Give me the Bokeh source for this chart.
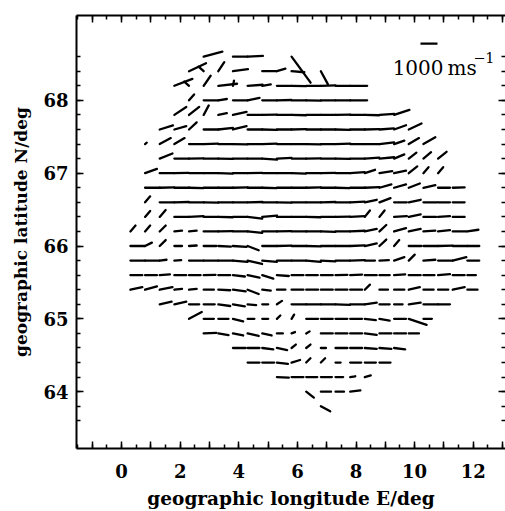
from bokeh.plotting import figure
from bokeh.models import (FixedTicker, LinearAxis, Range1d, ColumnDataSource,
                          CustomJSTickFormatter, CustomLabelingPolicy)
from bokeh.core.properties import value
from bokeh.embed import file_html
from bokeh.resources import INLINE

# ---------------- data ----------------
# latitude of each row of vectors (deg N)
ROW_LAT = [68.6, 68.4, 68.2, 68.0, 67.8, 67.6, 67.4, 67.2, 67.0, 66.8, 66.6, 66.4,
           66.2, 66.0, 65.8, 65.6, 65.4, 65.2, 65.0, 64.8, 64.6, 64.4, 64.2, 64.0, 63.8]
# longitude of the first grid point of each row (deg E); grid spacing 0.5 deg
ROW_FIRST_LON = [2.8, 2.3, 1.8, 2.3, 1.8, 1.3, 0.8, 1.3, 0.8, 0.8, 0.8, 0.8,
                 0.3, 0.3, 0.3, 0.3, 0.3, 1.3, 2.3, 2.8, 3.8, 4.3, 5.3, 6.3, 6.8]
GRID_STEP = 0.5

# eastward velocity component (m/s), None = no vector
VE_ROWS = [
    [1100, None, 860, 900, None, None, 1120],
    [1000, -300, 350, 880, None, 820, 500, 750, None, 410],
    [1060, -280, 410, 1100, 60, 880, 500, 860, 870, 850, 860, 870, 1000],
    [300, 850, 500, 860, 700, 860, 850, 870, 860, 850, 870, 1000],
    [700, 600, 300, 500, 800, 860, 850, 870, 860, 860, 850, 870, 860, 850, 870, 900],
    [780, 700, 450, 860, 860, 800, 860, 870, 850, 860, 860, 850, 870, 860, 860, 850, 700, 750],
    [100, 650, 600, 860, 850, 870, 860, 860, 850, 870, 860, 860, 850, 870, 860, 860, 860, 600, 600, 700],
    [750, 860, 850, 870, 860, 860, 850, 870, 860, 860, 850, 870, 860, 860, 850, 860, 600, 450, 450, 500],
    [700, 860, 850, 870, 860, 860, 850, 870, 860, 860, 850, 870, 860, 860, 850, 600, 750, 700, 500, 300, 300],
    [860, 850, 870, 860, 860, 850, 870, 860, 860, 850, 870, 860, 860, 850, 870, 860, 700, 700, 650, 700, 700, 700],
    [300, 860, 850, 870, 860, 860, 850, 870, 860, 860, 850, 870, 860, 860, 850, 700, 650, 750, 700, 800, 700, 700],
    [300, 350, 860, 850, 870, 860, 860, 860, 860, 850, 870, 860, 860, 850, 860, 300, 300, 750, 700, 750, 700, 700],
    [300, 300, 350, 450, 450, 860, 850, 870, 860, 860, 850, 870, 860, 860, 850, 860, 700, 400, 700, 700, 700, 700, 800, 650],
    [860, 400, 350, 450, 450, 750, 750, 800, 650, 860, 850, 870, 860, 860, 850, 860, 700, 400, 300, 750, 860, 860, 860, 700],
    [860, 850, 400, 400, 860, 850, 870, 860, 850, 860, 860, 850, 860, 860, 850, 860, 600, 550, 600, 350, 700, 860, 800, 700],
    [700, 700, 600, 700, 680, 700, 700, 700, 700, 650, 700, 700, 680, 700, 700, 700, 700, 600, 650, 700, 650, 700, 700, 500],
    [700, 700, 750, 450, 450, 600, 700, 750, 650, 500, 500, 700, 700, 700, 700, 700, 300, 500, 600, 650, 600, 600, 700, 600],
    [700, 700, 600, 650, 700, 700, 500, 350, 300, 860, 860, 860, 860, 860, 700, 600, 500, 700, 860, 700],
    [750, 600, 600, 600, 400, 350, 200, 150, 700, 700, 700, 700, 650, 600, 700, 1050, 500],
    [750, 600, 600, 650, 550, 350, 200, 200, 700, 700, 700, 700, 700, 700, 600],
    [750, 700, 650, 600, 250, 250, 300, 700, 700, 700, 700, 650],
    [700, 700, 650, 500, 250, 250, 300, 650, 650, 650],
    [700, 700, 650, 650, 450, 300, 350],
    [450, 600, 500, 600],
    [550],
]
# northward velocity component (m/s)
VN_ROWS = [
    [300, None, 0, 40, None, None, -1530],
    [470, 270, 530, 120, None, 0, 150, -60, None, -760],
    [410, 250, 590, 120, 300, 60, 80, 0, -20, 0, 20, 0, 0],
    [350, 0, 80, 0, 150, 0, 20, 0, -20, 0, 0, 0],
    [470, 470, 560, 100, 180, 0, 20, 0, -20, 0, 0, 20, 0, -20, 60, 300],
    [240, 200, 420, 0, 100, 200, 0, -20, 0, 20, 0, 0, -20, 0, 20, 60, 250, 350],
    [80, 350, 350, 0, 20, 0, -20, 0, 20, 0, 0, -20, 0, 20, 0, 0, 100, 200, 350, 400],
    [300, 0, 20, 0, -20, 0, 0, -60, 40, 0, 20, 0, -20, 0, 60, 80, 250, 350, 380, 400],
    [250, 0, 20, 0, 0, -20, 0, 20, 0, 0, -20, 0, 20, 0, 60, 200, 120, 150, 400, 350, 350],
    [0, 20, 0, -20, 0, 0, 20, 0, -20, 0, 0, 20, 0, -20, 0, 40, 200, 200, 250, 150, 0, 20],
    [350, 0, 20, 0, -20, 0, 0, 20, 0, -20, 0, 0, 20, 0, 40, 150, 250, 0, 150, 0, 0, 0],
    [350, 400, 0, 40, 0, -20, 0, -100, 80, 0, 0, -20, 0, 20, 40, 380, 380, 50, 150, 0, 50, 0],
    [350, 350, 350, 50, 50, 0, 20, 0, -80, 0, 20, 0, 0, -20, 0, 40, 150, 380, 200, 150, 50, 80, 0, 100],
    [0, 200, 350, 0, 30, 0, -30, -50, -250, 0, 20, 0, -20, 0, 0, 40, 150, 380, 350, 0, 0, 20, 0, 0],
    [0, 0, 50, 30, 0, 0, 0, -80, -200, -80, 0, 0, -80, -50, 0, 30, 0, 30, 200, 350, 50, 0, 200, 0],
    [0, 0, 50, 0, 0, 20, 0, -80, -150, -200, -50, 0, 0, 0, 20, 30, 0, 0, 50, 0, 0, 60, 0, 0],
    [150, 200, 150, 50, 50, 0, -30, -100, -250, -50, 0, 0, 0, 0, 0, 0, 300, 0, 0, 150, 0, 0, 150, 0],
    [150, 150, 0, 0, -100, -120, -50, 0, 200, 0, 0, 0, -30, 0, 100, 0, 0, 100, 0, 0],
    [400, 0, 0, -150, 0, 0, 200, 250, 0, 0, 0, 0, -80, -100, 0, -350, 0],
    [30, -100, -120, -150, -120, 0, 80, 120, 0, 0, 0, -80, 0, 0, 0],
    [0, 0, -80, -120, 200, 200, 0, 0, 0, -50, -50, -80],
    [0, 0, -80, 150, 250, 250, 0, 0, 0, 0],
    [-30, 0, 0, 0, 0, 50, 100],
    [-350, 0, 0, 80],
    [-300],
]

SCALE_SPEED = 1000          # m/s, reference vector
SCALE_LON, SCALE_LAT = 10.2, 68.78
SCALE_TEXT = "1000\u2009ms"
SCALE_EXP = "\u22121"

X_TICKS = list(range(-1, 14))
X_MINOR = [-1.5 + 0.5 * i for i in range(30)]
Y_TICKS = [64, 65, 66, 67, 68]
Y_MINOR = [round(63.6 + 0.2 * i, 1) for i in range(26)]

# ---------------- layout ----------------
FIG_W, FIG_H = 505, 511
BORDER_L, BORDER_T, BORDER_B = 76, 15, 63
FRAME_W = FIG_W - BORDER_L
FRAME_H = FIG_H - BORDER_T - BORDER_B
PX_PER_DEG_LON = 29.3
X0 = -1.54
X1 = X0 + FRAME_W / PX_PER_DEG_LON
Y0, Y1 = 63.22, 69.165
PX_PER_MS = 17.0 / 1000.0     # drawn vector length, px per (m/s)
px_lon = FRAME_W / (X1 - X0)
px_lat = FRAME_H / (Y1 - Y0)

x0s, y0s, x1s, y1s = [], [], [], []
for lat, lon0, ves, vns in zip(ROW_LAT, ROW_FIRST_LON, VE_ROWS, VN_ROWS):
    for i, (ve, vn) in enumerate(zip(ves, vns)):
        if ve is None:
            continue
        lon = lon0 + GRID_STEP * i
        x0s.append(lon)
        y0s.append(lat)
        x1s.append(lon + ve * PX_PER_MS / px_lon)
        y1s.append(lat + vn * PX_PER_MS / px_lat)

src = ColumnDataSource(dict(x0=x0s, y0=y0s, x1=x1s, y1=y1s))

p = figure(width=FIG_W, height=FIG_H,
           x_range=Range1d(X0, X1), y_range=Range1d(Y0, Y1),
           output_backend="svg", toolbar_location=None,
           min_border_left=BORDER_L, min_border_right=0,
           min_border_top=BORDER_T, min_border_bottom=BORDER_B)
p.xgrid.visible = False
p.ygrid.visible = False
p.outline_line_color = None
p.background_fill_color = "white"

p.segment(x0="x0", y0="y0", x1="x1", y1="y1", source=src,
          line_color="black", line_width=2.3, line_cap="round")

# scale vector
p.segment(x0=[SCALE_LON], y0=[SCALE_LAT],
          x1=[SCALE_LON + SCALE_SPEED * PX_PER_MS / px_lon], y1=[SCALE_LAT],
          line_color="black", line_width=2.3)
p.text(x=[9.25], y=[68.45], text=[SCALE_TEXT], text_font=value("DejaVu Serif"),
       text_font_size="20px", text_baseline="alphabetic", text_align="left", text_color="black")
p.text(x=[12.0], y=[68.59], text=[SCALE_EXP], text_font=value("DejaVu Serif"),
       text_font_size="14.5px", text_baseline="alphabetic", text_align="left", text_color="black")

FONT = "DejaVu Serif"
no_labels = CustomLabelingPolicy(code="""
    for (const i of Array.from(indices)) { indices.unset(i) }
    return indices
""")


def style_axis(ax, labels=True):
    ax.axis_line_width = 2
    ax.axis_line_color = "black"
    ax.major_tick_in = 7
    ax.major_tick_out = 0
    ax.minor_tick_in = 4
    ax.minor_tick_out = 0
    ax.major_tick_line_width = 1.5
    ax.minor_tick_line_width = 1.5
    ax.major_tick_line_color = "black"
    ax.minor_tick_line_color = "black"
    if labels:
        ax.major_label_text_font = FONT
        ax.major_label_text_font_style = "bold"
        ax.major_label_text_font_size = "18px"
        ax.major_label_text_color = "black"
        ax.axis_label_text_font = FONT
        ax.axis_label_text_font_style = "bold"
        ax.axis_label_text_color = "black"
    else:
        ax.major_label_policy = no_labels
        ax.major_label_text_font_size = "0px"
        ax.major_label_standoff = 0
        ax.axis_label_standoff = 0


xax = p.xaxis[0]
xax.ticker = FixedTicker(ticks=X_TICKS, minor_ticks=X_MINOR)
xax.formatter = CustomJSTickFormatter(
    code="return (Math.round(tick) % 2 === 0) ? tick.toFixed(0) : '';")
xax.axis_label = "geographic longitude E/deg"
style_axis(xax)
xax.axis_label_text_font_size = "18.5px"
xax.major_label_standoff = 15
xax.axis_label_standoff = 7

yax = p.yaxis[0]
yax.ticker = FixedTicker(ticks=Y_TICKS, minor_ticks=Y_MINOR)
yax.axis_label = "geographic latitude N/deg"
style_axis(yax)
yax.axis_label_text_font_size = "17px"
yax.major_label_standoff = 8
yax.axis_label_standoff = 9
yax.major_label_orientation = "horizontal"

top = LinearAxis(ticker=FixedTicker(ticks=X_TICKS, minor_ticks=X_MINOR))
style_axis(top, labels=False)
p.add_layout(top, "above")

right = LinearAxis(ticker=FixedTicker(ticks=Y_TICKS, minor_ticks=Y_MINOR))
style_axis(right, labels=False)
right.axis_line_color = None
p.add_layout(right, "right")

open("out.html", "w").write(file_html(p, INLINE))
